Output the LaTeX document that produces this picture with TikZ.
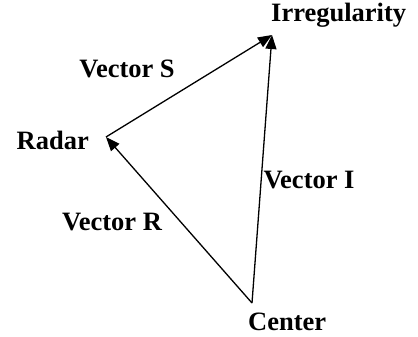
\documentclass[tikz,border=0pt]{standalone}
\usepackage{fontspec}
\setmainfont{Liberation Serif}
\usetikzlibrary{arrows.meta, positioning}

\begin{document}
\begin{tikzpicture}[
  x=1pt, y=-1pt,
  vec/.style   = {-{Triangle[length=14pt,width=11pt]}, line width=1.3pt, black},
  lbl/.style   = {font=\fontsize{26.5}{31}\selectfont\bfseries, inner sep=0pt},
  veclbl/.style= {font=\fontsize{26.5}{31}\selectfont\bfseries, inner sep=0pt}
]
\useasboundingbox (0,0) rectangle (418,337);

% -- Points ----------------------------------------------------------------
\coordinate (center) at (252,303);
\coordinate (radar)  at (106,137);
\coordinate (irreg)  at (272,35);

% -- Point labels ------------------------------------------------------------
\node[lbl, left=17pt of radar, yshift=-3pt] (radarlbl) {Radar};
\node[lbl, anchor=north west] (centerlbl) at (248,313) {Center};
\node[lbl, anchor=south west] (irreglbl)  at (271,28)  {Irregularity};

% -- Vectors -----------------------------------------------------------------
\draw[vec] (center) -- (radar);
\draw[vec] (radar)  -- (irreg);
\draw[vec] (center) -- (irreg);

% -- Vector labels -------------------------------------------------------------
\node[veclbl] (vecS) at (127,69)  {Vector S};
\node[veclbl] (vecI) at (309,180) {Vector I};
\node[veclbl] (vecR) at (112,222) {Vector R};
\end{tikzpicture}
\end{document}
